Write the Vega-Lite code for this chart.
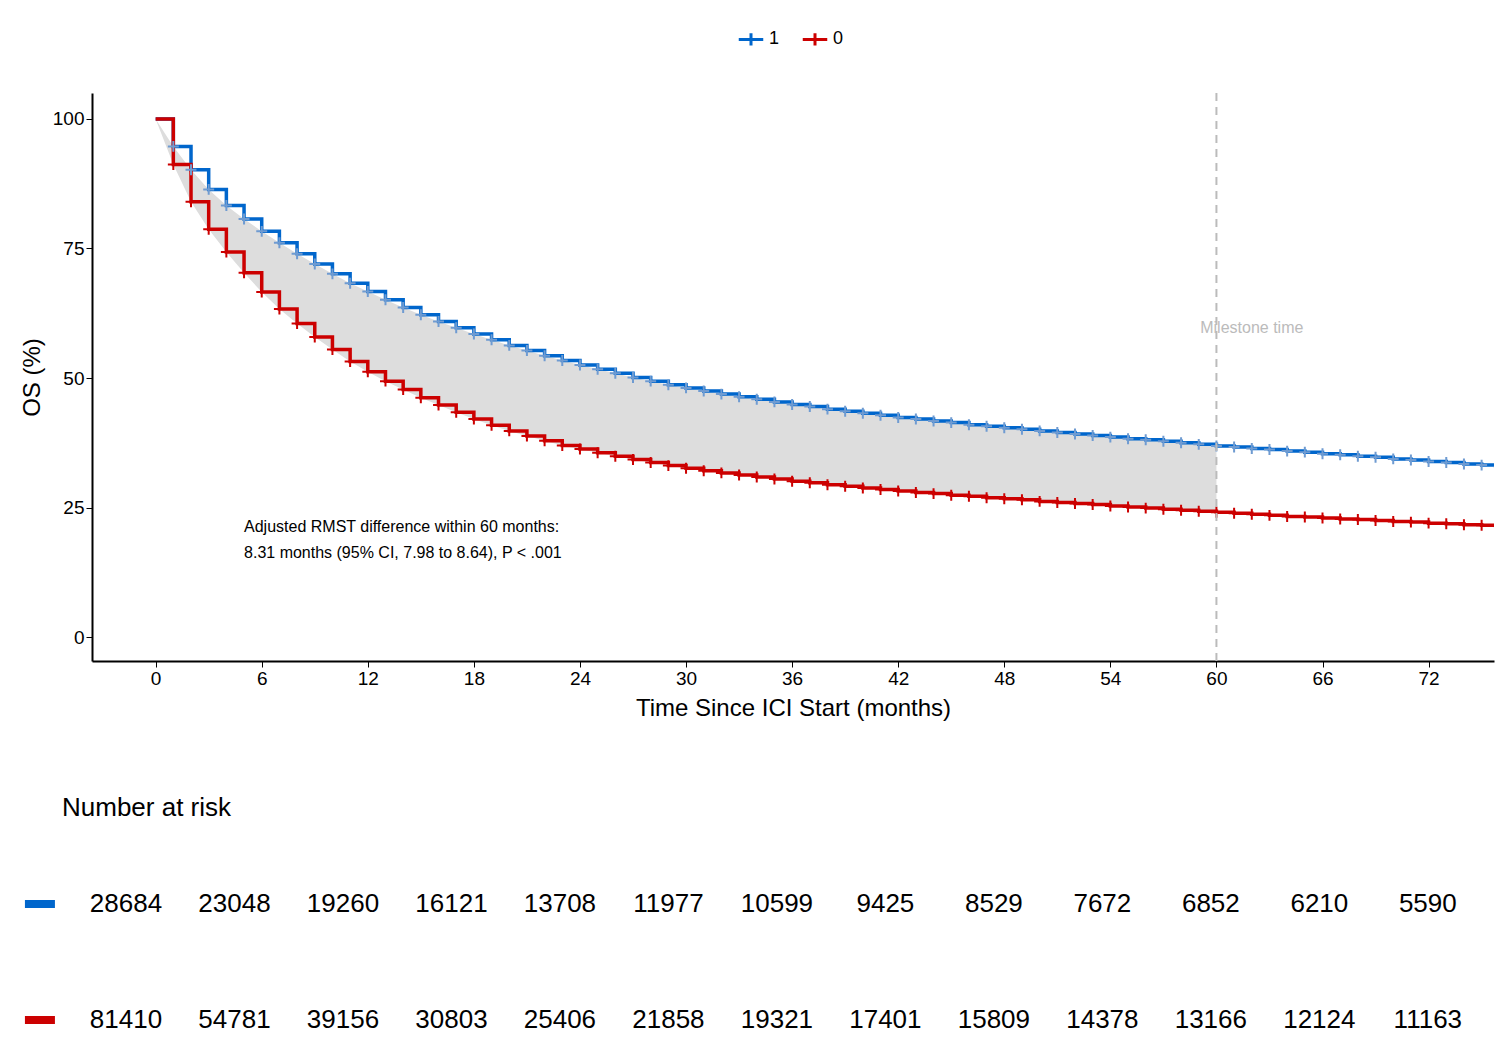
{
"$schema":"https://vega.github.io/schema/vega-lite/v6.json",
"background":"white",
"padding":{"left":20,"top":25,"right":10,"bottom":10},
"config":{"view":{"stroke":null},"font":"Arial","axis":{"labelFont":"Arial","titleFont":"Arial"}},
"datasets":{
"km":[
{"t":0,"s1":100,"s0":100},{"t":1,"s1":94.7,"s0":91.2},{"t":2,"s1":90.2,"s0":84.0},{"t":3,"s1":86.4,"s0":78.7},{"t":4,"s1":83.3,"s0":74.3},{"t":5,"s1":80.7,"s0":70.3},{"t":6,"s1":78.3,"s0":66.6},{"t":7,"s1":76.1,"s0":63.3},{"t":8,"s1":74.0,"s0":60.5},{"t":9,"s1":72.0,"s0":57.9},{"t":10,"s1":70.1,"s0":55.5},{"t":11,"s1":68.3,"s0":53.2},{"t":12,"s1":66.7,"s0":51.2},{"t":13,"s1":65.1,"s0":49.4},{"t":14,"s1":63.6,"s0":47.8},{"t":15,"s1":62.2,"s0":46.2},{"t":16,"s1":60.9,"s0":44.8},{"t":17,"s1":59.7,"s0":43.4},{"t":18,"s1":58.5,"s0":42.1},{"t":19,"s1":57.4,"s0":40.9},{"t":20,"s1":56.3,"s0":39.8},{"t":21,"s1":55.3,"s0":38.8},{"t":22,"s1":54.3,"s0":37.9},{"t":23,"s1":53.4,"s0":37.0},{"t":24,"s1":52.5,"s0":36.3},{"t":25,"s1":51.7,"s0":35.6},{"t":26,"s1":50.9,"s0":34.9},{"t":27,"s1":50.1,"s0":34.3},{"t":28,"s1":49.4,"s0":33.7},{"t":29,"s1":48.7,"s0":33.1},{"t":30,"s1":48.1,"s0":32.6},{"t":31,"s1":47.5,"s0":32.1},{"t":32,"s1":46.9,"s0":31.7},{"t":33,"s1":46.4,"s0":31.3},{"t":34,"s1":45.9,"s0":30.9},{"t":35,"s1":45.4,"s0":30.5},{"t":36,"s1":44.9,"s0":30.1},{"t":37,"s1":44.5,"s0":29.8},{"t":38,"s1":44.0,"s0":29.4},{"t":39,"s1":43.6,"s0":29.1},{"t":40,"s1":43.2,"s0":28.8},{"t":41,"s1":42.8,"s0":28.5},{"t":42,"s1":42.4,"s0":28.2},{"t":43,"s1":42.1,"s0":27.9},{"t":44,"s1":41.7,"s0":27.7},{"t":45,"s1":41.4,"s0":27.4},{"t":46,"s1":41.0,"s0":27.2},{"t":47,"s1":40.7,"s0":26.9},{"t":48,"s1":40.4,"s0":26.7},{"t":49,"s1":40.1,"s0":26.5},{"t":50,"s1":39.8,"s0":26.2},{"t":51,"s1":39.5,"s0":26.0},{"t":52,"s1":39.2,"s0":25.8},{"t":53,"s1":38.9,"s0":25.6},{"t":54,"s1":38.6,"s0":25.3},{"t":55,"s1":38.3,"s0":25.1},{"t":56,"s1":38.1,"s0":24.9},{"t":57,"s1":37.8,"s0":24.7},{"t":58,"s1":37.5,"s0":24.5},{"t":59,"s1":37.2,"s0":24.3},{"t":60,"s1":36.9,"s0":24.1},{"t":61,"s1":36.7,"s0":23.9},{"t":62,"s1":36.4,"s0":23.7},{"t":63,"s1":36.2,"s0":23.5},{"t":64,"s1":35.9,"s0":23.3},{"t":65,"s1":35.7,"s0":23.2},{"t":66,"s1":35.4,"s0":23.0},{"t":67,"s1":35.2,"s0":22.8},{"t":68,"s1":34.9,"s0":22.7},{"t":69,"s1":34.7,"s0":22.5},{"t":70,"s1":34.4,"s0":22.3},{"t":71,"s1":34.2,"s0":22.2},{"t":72,"s1":33.9,"s0":22.0},{"t":73,"s1":33.7,"s0":21.9},{"t":74,"s1":33.4,"s0":21.7},{"t":75,"s1":33.2,"s0":21.6},{"t":76,"s1":32.9,"s0":21.4}
],
"risk":[
{"t":0,"g":"1","n":"28684"},{"t":6,"g":"1","n":"23048"},{"t":12,"g":"1","n":"19260"},{"t":18,"g":"1","n":"16121"},{"t":24,"g":"1","n":"13708"},{"t":30,"g":"1","n":"11977"},{"t":36,"g":"1","n":"10599"},{"t":42,"g":"1","n":"9425"},{"t":48,"g":"1","n":"8529"},{"t":54,"g":"1","n":"7672"},{"t":60,"g":"1","n":"6852"},{"t":66,"g":"1","n":"6210"},{"t":72,"g":"1","n":"5590"},
{"t":0,"g":"0","n":"81410"},{"t":6,"g":"0","n":"54781"},{"t":12,"g":"0","n":"39156"},{"t":18,"g":"0","n":"30803"},{"t":24,"g":"0","n":"25406"},{"t":30,"g":"0","n":"21858"},{"t":36,"g":"0","n":"19321"},{"t":42,"g":"0","n":"17401"},{"t":48,"g":"0","n":"15809"},{"t":54,"g":"0","n":"14378"},{"t":60,"g":"0","n":"13166"},{"t":66,"g":"0","n":"12124"},{"t":72,"g":"0","n":"11163"}
],
"dash":[{"t":-4.76,"g":"1"},{"t":-4.76,"g":"0"}]
},
"vconcat":[
{
"width":1402,"height":568,
"layer":[
{"data":{"name":"km"},"transform":[{"filter":"datum.t<=60"}],"mark":{"type":"area","color":"#dddddd","opacity":1},
 "encoding":{"x":{"field":"t","type":"quantitative","scale":{"domain":[-3.6,75.7],"nice":false,"zero":false},
   "axis":{"values":[0,6,12,18,24,30,36,42,48,54,60,66,72],"title":"Time Since ICI Start (months)","titleFontSize":24,"titleFontWeight":"normal","titleColor":"black","labelFontSize":19,"labelColor":"black","grid":false,"domainColor":"black","domainWidth":2,"tickColor":"black","tickSize":6,"titlePadding":8}},
  "y":{"field":"s1","type":"quantitative","scale":{"domain":[-4.6,105],"nice":false,"zero":false},
   "axis":{"values":[0,25,50,75,100],"title":"OS (%)","titleFontSize":24,"titleFontWeight":"normal","titleColor":"black","labelFontSize":19,"labelColor":"black","grid":false,"domainColor":"black","domainWidth":2,"tickColor":"black","tickSize":6,"titlePadding":8}},
  "y2":{"field":"s0"}}},
{"data":{"name":"km"},"transform":[{"fold":["s1","s0"],"as":["k","v"]},{"calculate":"datum.k=='s1'?'1':'0'","as":"grp"}],
 "mark":{"type":"line","interpolate":"step-after","strokeWidth":3.5,"clip":true},
 "encoding":{"x":{"field":"t","type":"quantitative"},"y":{"field":"v","type":"quantitative"},
  "color":{"field":"grp","type":"nominal","scale":{"domain":["1","0"],"range":["#0066CC","#CC0000"]},
   "legend":{"orient":"none","legendX":645,"legendY":-68,"direction":"horizontal","title":null,"labelFontSize":18,"symbolType":"M-1,0L1,0M0,-0.5L0,0.5","symbolStrokeWidth":3,"symbolSize":600,"columnPadding":16}}}},
{"data":{"name":"km"},"transform":[{"filter":"datum.t>0"},{"fold":["s1","s0"],"as":["k","v"]},{"calculate":"datum.k=='s1'?'1':'0'","as":"grp"}],
 "mark":{"type":"point","shape":"M-1,0L1,0M0,-1L0,1","size":120,"strokeWidth":2,"filled":false,"opacity":1,"clip":true},
 "encoding":{"x":{"field":"t","type":"quantitative"},"y":{"field":"v","type":"quantitative"},
  "stroke":{"field":"grp","type":"nominal","scale":{"domain":["1","0"],"range":["#6f9bd1","#cc0000"]},"legend":null}}},
{"data":{"values":[{"t":60}]},"mark":{"type":"rule","strokeDash":[8,6],"color":"#bbbbbb","strokeWidth":2},"encoding":{"x":{"field":"t","type":"quantitative"}}},
{"data":{"values":[{"t":62,"v":59.6,"l":"Milestone time"}]},"mark":{"type":"text","color":"#bbbbbb","fontSize":16},"encoding":{"x":{"field":"t","type":"quantitative"},"y":{"field":"v","type":"quantitative"},"text":{"field":"l"}}},
{"data":{"values":[{"t":5,"v":21.2,"l":"Adjusted RMST difference within 60 months:"},{"t":5,"v":16.2,"l":"8.31 months (95% CI, 7.98 to 8.64), P < .001"}]},"mark":{"type":"text","align":"left","fontSize":16,"color":"black"},"encoding":{"x":{"field":"t","type":"quantitative"},"y":{"field":"v","type":"quantitative"},"text":{"field":"l"}}}
]
},
{
"width":1402,"height":232,
"layer":[
{"data":{"name":"risk"},"mark":{"type":"text","fontSize":26,"color":"black"},
 "encoding":{"x":{"field":"t","type":"quantitative","scale":{"domain":[-1.88,75.66],"nice":false,"zero":false},"axis":null},
  "y":{"field":"g","type":"nominal","scale":{"type":"point","domain":["1","0"],"padding":0.5},"axis":null},"text":{"field":"n"}}},
{"data":{"values":[{"t":-3.54,"g":"1","l":"Number at risk"}]},"mark":{"type":"text","fontSize":26,"color":"black","align":"left","dy":-96},
 "encoding":{"x":{"field":"t","type":"quantitative"},"y":{"field":"g","type":"nominal"},"text":{"field":"l"}}},
{"data":{"name":"dash"},"mark":{"type":"tick","orient":"horizontal","thickness":8,"size":30,"clip":false,"opacity":1},
 "encoding":{"x":{"field":"t","type":"quantitative"},"y":{"field":"g","type":"nominal"},
  "color":{"field":"g","type":"nominal","scale":{"domain":["1","0"],"range":["#0066CC","#CC0000"]},"legend":null}}}
]
}
],
"spacing":75
}
